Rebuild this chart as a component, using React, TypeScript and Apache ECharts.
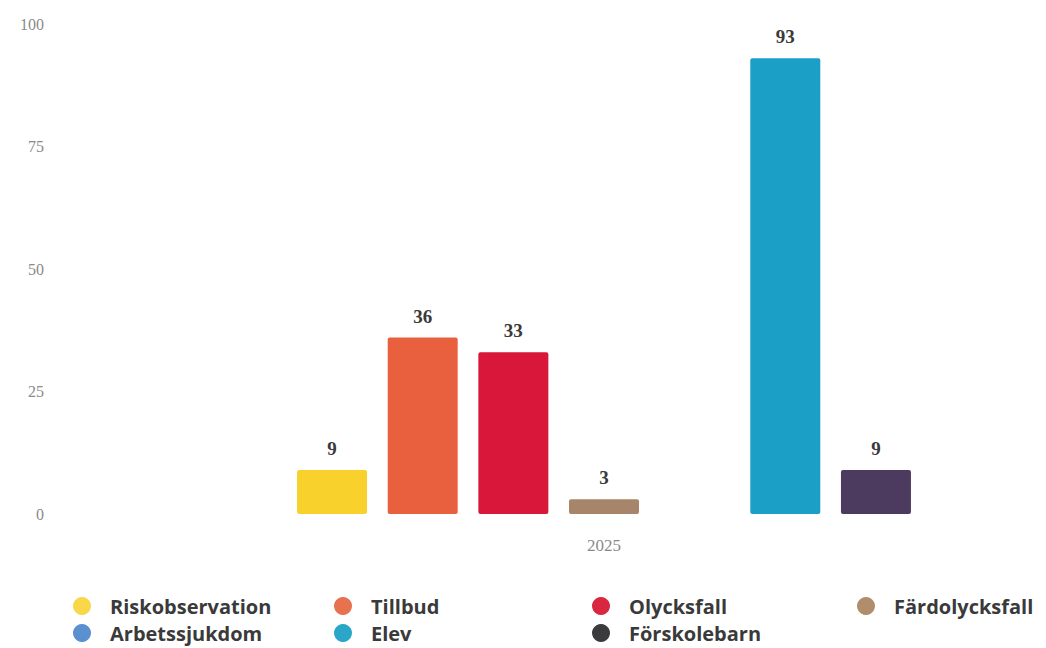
import React, { useEffect, useRef } from "react";
import * as echarts from "echarts";

const categories = ["2025"];
const seriesNames = ["Riskobservation", "Tillbud", "Olycksfall", "Färdolycksfall", "Arbetssjukdom", "Elev", "Förskolebarn"];
const seriesValues = [9, 36, 33, 3, 0, 93, 9];
const seriesColors = ["#f8d12c", "#e9603e", "#d8173a", "#a7856a", "#4f87cc", "#1c9fc7", "#4d3a5f"];
const legendIconColors = ["#f8d84a", "#e8714f", "#d8273f", "#b08d6c", "#5a8fd0", "#2aa6c8", "#3b3b3d"];
const yTicks = [0, 25, 50, 75, 100];

const legendPos = [
  { left: 73, top: 595 },
  { left: 334, top: 595 },
  { left: 592, top: 595 },
  { left: 857, top: 595 },
  { left: 73, top: 622 },
  { left: 334, top: 622 },
  { left: 592, top: 622 },
];

export default function App() {
  const ref = useRef<HTMLDivElement>(null);
  useEffect(() => {
    const chart = echarts.init(ref.current!, null, { renderer: "svg" });
    chart.setOption({
      animation: false,
      backgroundColor: "#ffffff",
      grid: { left: 164, right: 2, top: 24, bottom: 134, containLabel: false },
      xAxis: {
        type: "category",
        data: categories,
        axisLine: { show: false },
        axisTick: { show: false },
        axisLabel: { color: "#8a8a8a", fontFamily: "Liberation Serif", fontSize: 17, margin: 23 },
      },
      yAxis: {
        type: "value",
        min: yTicks[0],
        max: yTicks[yTicks.length - 1],
        interval: 25,
        splitLine: { show: false },
        axisLine: { show: false },
        axisTick: { show: false },
        axisLabel: { color: "#8a8a8a", fontFamily: "Liberation Serif", fontSize: 16, margin: 120 },
      },
      legend: seriesNames.map((name, i) => ({
        data: [{ name, itemStyle: { color: legendIconColors[i] } }],
        left: legendPos[i].left,
        top: legendPos[i].top,
        padding: 0,
        icon: "circle",
        itemWidth: 18,
        itemHeight: 18,
        selectedMode: false,
        textStyle: {
          color: "#3a3a3a",
          fontFamily: "Open Sans",
          fontWeight: "bold",
          fontSize: 20,
          lineHeight: 22,
          padding: [0, 0, 0, 14],
        },
      })),
      series: seriesNames.map((name, i) => ({
        name,
        type: "bar",
        data: [seriesValues[i]],
        barWidth: 70,
        barGap: "29.5%",
        itemStyle: { color: seriesColors[i], borderRadius: 2 },
        label: {
          show: true,
          position: "top",
          distance: 12,
          color: "#3a3a3a",
          fontFamily: "Liberation Serif",
          fontWeight: "bold",
          fontSize: 19,
          formatter: (p: any) => (p.value === 0 ? "" : String(p.value)),
        },
      })),
    });
    return () => chart.dispose();
  }, []);
  return <div ref={ref} style={{ position: "fixed", left: 0, top: 0, width: 1046, height: 648 }} />;
}
